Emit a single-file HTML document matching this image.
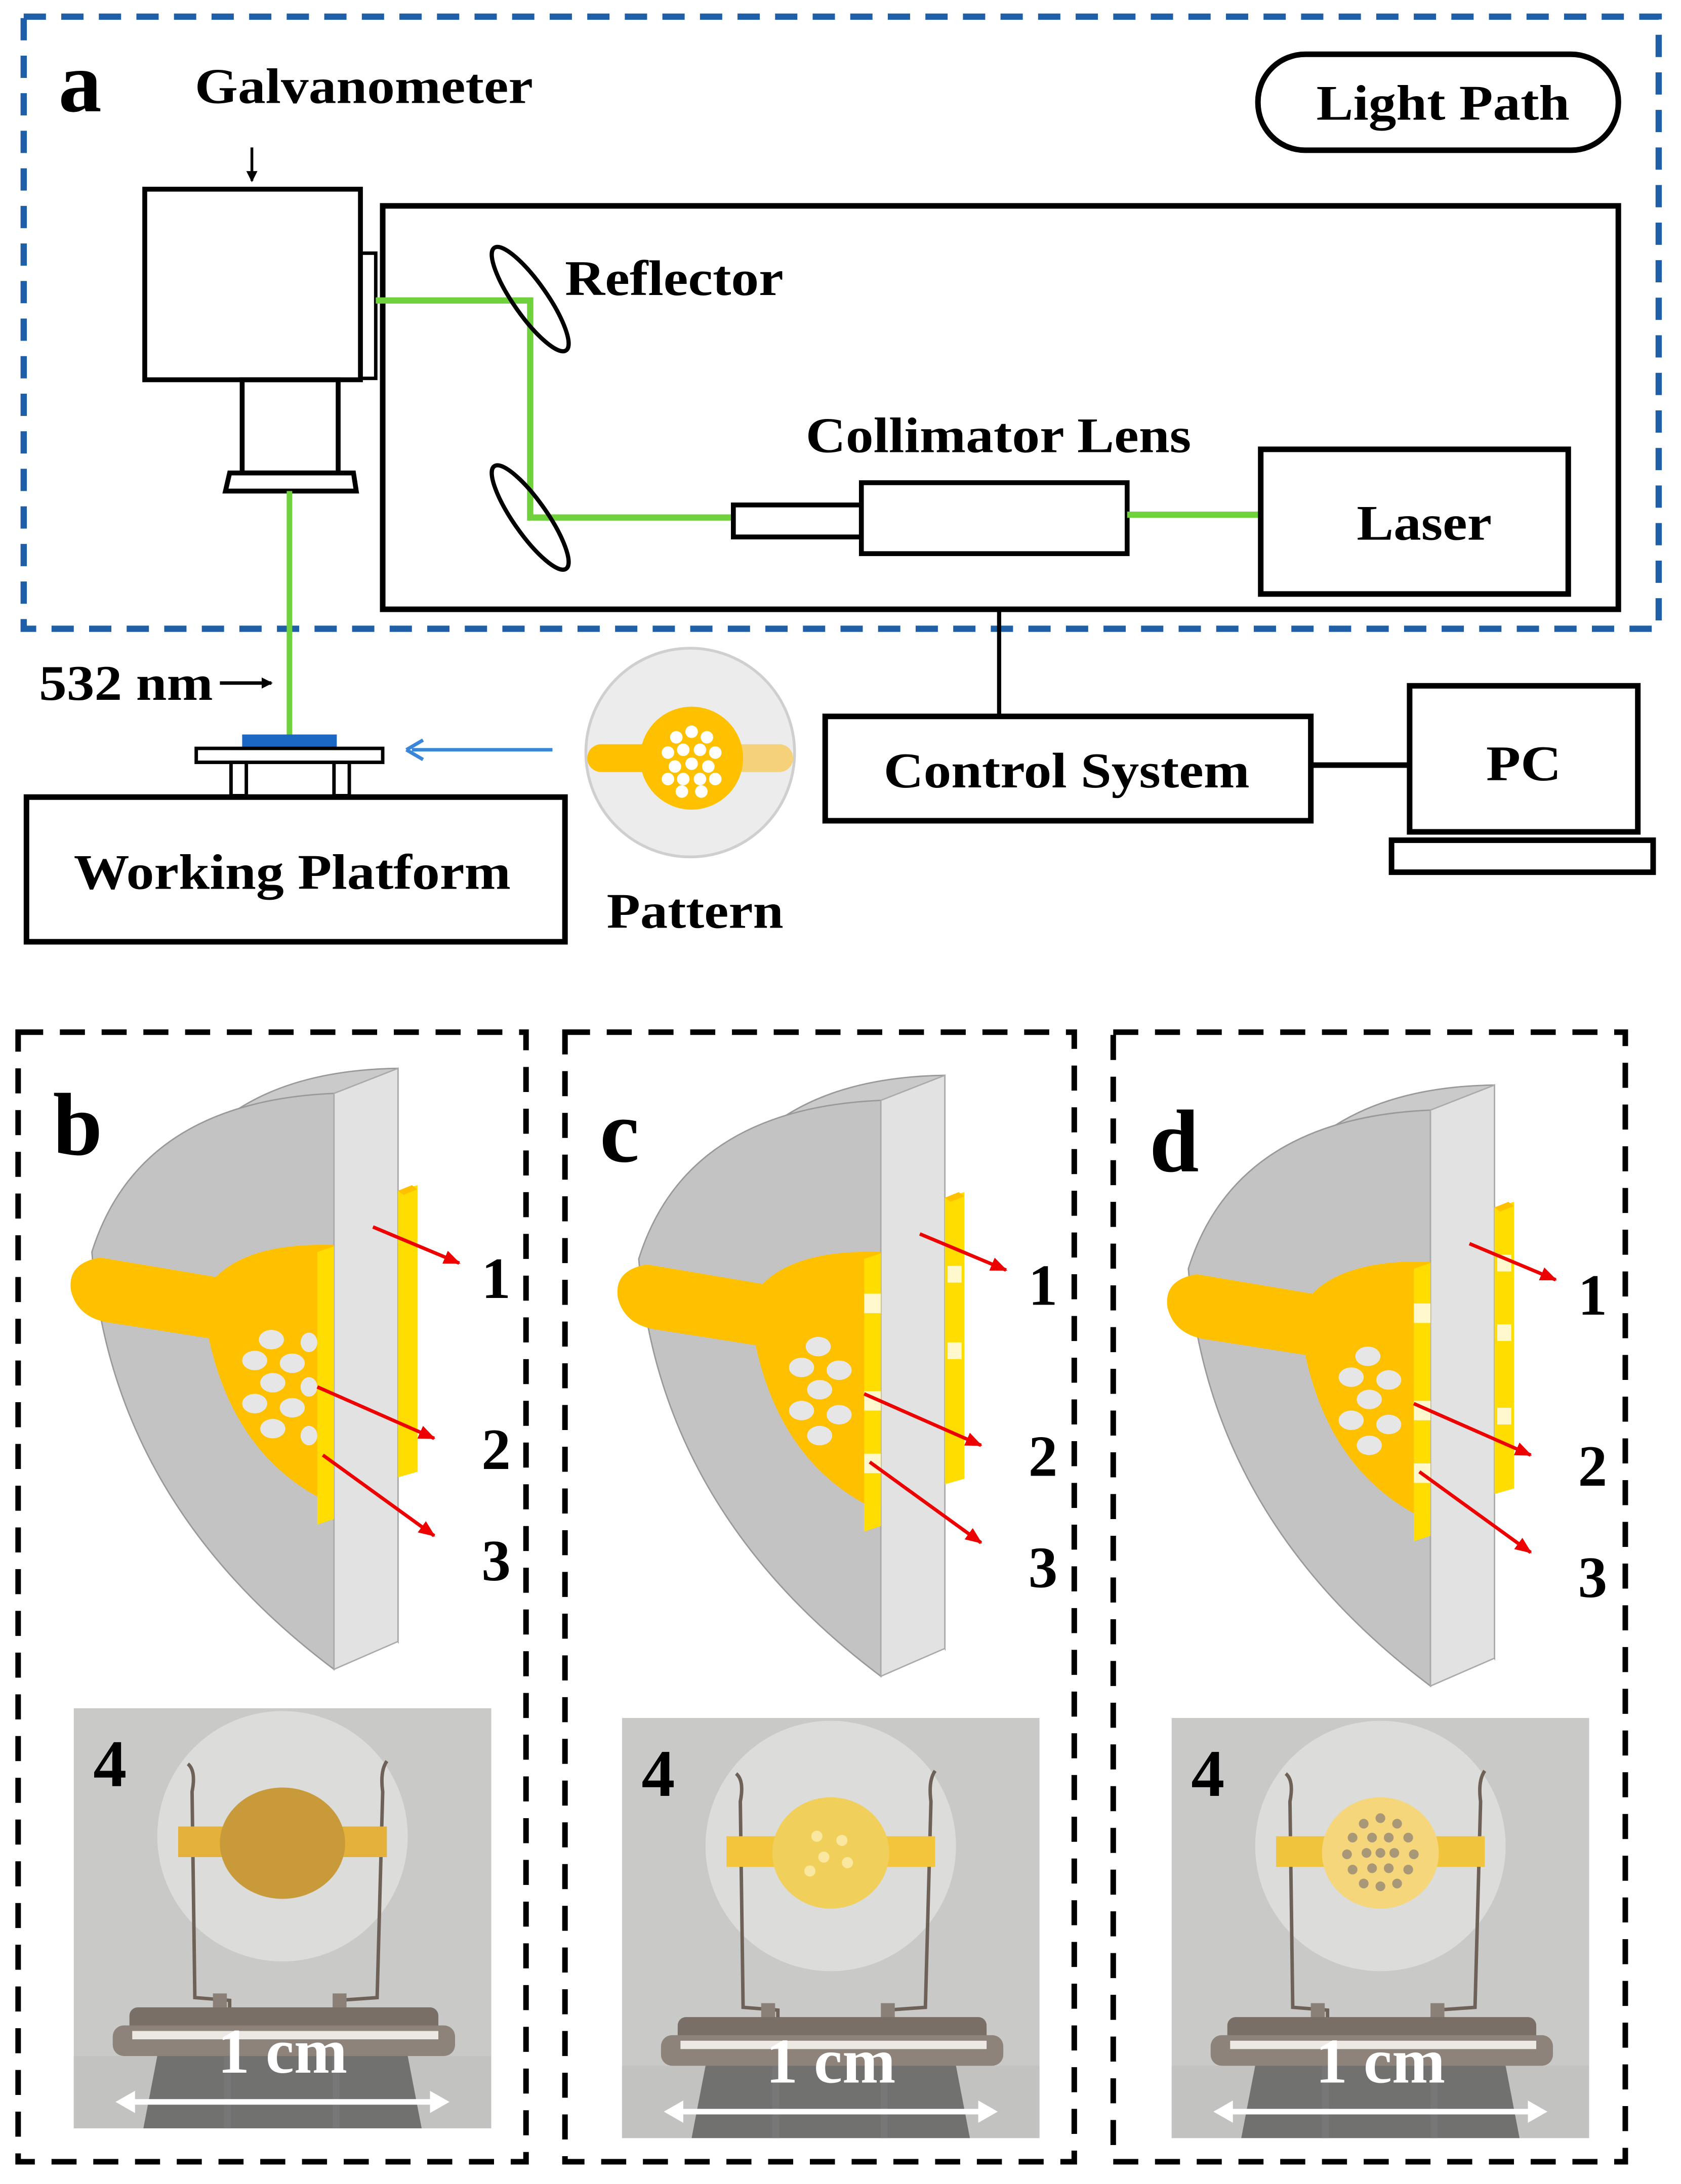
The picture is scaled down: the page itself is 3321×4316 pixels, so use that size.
<!DOCTYPE html>
<html><head><meta charset="utf-8"><style>html,body{margin:0;padding:0;background:#fff}svg{display:block}</style></head><body>
<svg width="3321" height="4316" viewBox="0 0 1208 1570" xmlns="http://www.w3.org/2000/svg" font-family="'Liberation Serif',serif" font-weight="bold">
<defs>
<marker id="ak" markerWidth="8" markerHeight="8" refX="7" refY="4" orient="auto" markerUnits="userSpaceOnUse"><path d="M0,0 L8,4 L0,8 Z" fill="#000"/></marker>
<marker id="ar" markerWidth="12" markerHeight="10" refX="11" refY="5" orient="auto" markerUnits="userSpaceOnUse"><path d="M0,0 L12,5 L0,10 Z" fill="#e00"/></marker>
<g id="shape">
<path d="M286,768 Q145,770 110,880 L286,1180 Z" fill="#cacaca" stroke="#999" stroke-width="1"/>
<path d="M240,786 Q100,792 66,900 Q80,1080 240,1200 Z" fill="#c3c3c3" stroke="#999" stroke-width="1"/>
<path d="M240,786 L286,768 L286,1180 L240,1200 Z" fill="#e2e2e2" stroke="#aaa" stroke-width="1"/>
<path d="M286,856 L300,852 L300,1058 L286,1062 Z" fill="#ffdd00"/>
<path d="M286,856 L296,852 L300,855 L290,859 Z" fill="#ffc000"/>
<path d="M240,895 Q180,893 155,918 L72,904 Q48,908 51,928 Q56,948 80,951 L150,962 Q168,1045 232,1078 L240,1078 Z" fill="#ffc000"/>
<path d="M228,900 L240,896 L240,1092 L228,1096 Z" fill="#ffdd00"/>
</g>
<g id="photo">
<rect x="0" y="0" width="300" height="302" fill="#c9c9c7"/>
<circle cx="150" cy="92" r="90" fill="#dcdcda"/>
<path d="M82,40 Q88,45 85,60 L87,208 L112,210 L112,240 M225,38 Q220,45 222,60 L218,208 L190,210 L190,240" fill="none" stroke="#6e6258" stroke-width="2.5"/>
<rect x="100" y="205" width="10" height="35" fill="#8a8078"/><rect x="186" y="205" width="10" height="35" fill="#8a8078"/>
<path d="M0,250 L300,250 L300,302 L0,302 Z" fill="#c2c2c0"/>
<path d="M60,250 Q150,240 240,250 L250,302 L50,302 Z" fill="#555" opacity="0.75"/>
<rect x="40" y="215" width="222" height="20" rx="6" fill="#7a6f66"/>
<rect x="28" y="228" width="246" height="22" rx="8" fill="#8d837a"/>
<rect x="42" y="232" width="220" height="6" fill="#ece8e4"/>
<rect x="108" y="250" width="5" height="52" fill="#777"/><rect x="186" y="250" width="5" height="52" fill="#777"/>
<text x="14" y="56" font-size="48" fill="#000">4</text>
<text x="150" y="262" font-size="46" fill="#fff" text-anchor="middle">1 cm</text>
<path d="M40,283 L260,283" stroke="#fff" stroke-width="4"/>
<path d="M30,283 L44,275 L44,291 Z M270,283 L256,275 L256,291 Z" fill="#fff"/>
</g>
</defs>

<rect x="17" y="12" width="1175" height="440" fill="none" stroke="#1f5fa8" stroke-width="4.5" stroke-dasharray="16,11"/>
<text x="42" y="80" font-size="62">a</text>
<text x="140" y="74" font-size="36" textLength="243" lengthAdjust="spacingAndGlyphs">Galvanometer</text>
<line x1="181" y1="106" x2="181" y2="130" stroke="#000" stroke-width="2" marker-end="url(#ak)"/>
<rect x="904" y="39" width="259" height="69" rx="34" fill="none" stroke="#000" stroke-width="4"/>
<text x="946" y="86" font-size="36" textLength="182" lengthAdjust="spacingAndGlyphs">Light Path</text>

<rect x="104" y="136" width="155" height="137" fill="none" stroke="#000" stroke-width="3.5"/>
<rect x="259" y="182" width="11" height="90" fill="none" stroke="#000" stroke-width="2.5"/>
<rect x="174" y="273" width="69" height="67" fill="none" stroke="#000" stroke-width="3.5"/>
<path d="M165,340 L254,340 L256,353 L162,353 Z" fill="none" stroke="#000" stroke-width="3.5"/>
<line x1="208" y1="353" x2="208" y2="528" stroke="#6fd13c" stroke-width="4"/>

<rect x="275" y="148" width="888" height="290" fill="none" stroke="#000" stroke-width="4"/>
<path d="M270,216 L381,216 L381,372 L527,372" fill="none" stroke="#6fd13c" stroke-width="4.5"/>
<ellipse cx="381" cy="215" rx="45" ry="12" transform="rotate(55 381 215)" fill="none" stroke="#000" stroke-width="3"/>
<ellipse cx="381" cy="372" rx="45" ry="12" transform="rotate(55 381 372)" fill="none" stroke="#000" stroke-width="3"/>
<text x="406" y="212" font-size="36" textLength="157" lengthAdjust="spacingAndGlyphs">Reflector</text>
<text x="579" y="325" font-size="36" textLength="277" lengthAdjust="spacingAndGlyphs">Collimator Lens</text>
<rect x="527" y="363" width="92" height="23" fill="#fff" stroke="#000" stroke-width="3.5"/>
<rect x="619" y="347" width="191" height="51" fill="#fff" stroke="#000" stroke-width="3.5"/>
<line x1="810" y1="370" x2="905" y2="370" stroke="#6fd13c" stroke-width="4.5"/>
<rect x="906" y="323" width="221" height="104" fill="none" stroke="#000" stroke-width="4"/>
<text x="975" y="388" font-size="36" textLength="97" lengthAdjust="spacingAndGlyphs">Laser</text>

<line x1="718" y1="438" x2="718" y2="515" stroke="#000" stroke-width="3"/>
<rect x="593" y="515" width="349" height="75" fill="none" stroke="#000" stroke-width="4"/>
<text x="635" y="566" font-size="36" textLength="263" lengthAdjust="spacingAndGlyphs">Control System</text>
<line x1="942" y1="550" x2="1012" y2="550" stroke="#000" stroke-width="4"/>
<rect x="1013" y="493" width="164" height="105" fill="none" stroke="#000" stroke-width="4"/>
<rect x="1000" y="604" width="188" height="23" fill="none" stroke="#000" stroke-width="4"/>
<text x="1068" y="561" font-size="36" textLength="54" lengthAdjust="spacingAndGlyphs">PC</text>

<text x="28" y="503" font-size="36" textLength="125" lengthAdjust="spacingAndGlyphs">532 nm</text>
<line x1="158" y1="491" x2="195" y2="491" stroke="#000" stroke-width="2.5" marker-end="url(#ak)"/>
<rect x="174" y="528" width="68" height="10" fill="#1a67c4"/>
<rect x="141" y="538" width="134" height="10" fill="none" stroke="#000" stroke-width="2.5"/>
<rect x="166" y="548" width="11" height="24" fill="none" stroke="#000" stroke-width="2.5"/>
<rect x="240" y="548" width="11" height="24" fill="none" stroke="#000" stroke-width="2.5"/>
<rect x="19" y="573" width="387" height="104" fill="none" stroke="#000" stroke-width="4"/>
<text x="53" y="639" font-size="36" textLength="314" lengthAdjust="spacingAndGlyphs">Working Platform</text>
<line x1="397" y1="539" x2="296" y2="539" stroke="#3a86d8" stroke-width="2.5"/>
<path d="M292,539 L304,532 M292,539 L304,546" stroke="#3a86d8" stroke-width="2.5" fill="none"/>
<circle cx="496" cy="541" r="75" fill="#ececec" stroke="#cfcfcf" stroke-width="2"/>
<rect x="422" y="535" width="75" height="20" rx="10" fill="#ffc000"/>
<rect x="497" y="535" width="73" height="20" rx="10" fill="#f5d27a"/>
<circle cx="497" cy="545" r="37" fill="#ffc000"/>
<g fill="#fff">
<circle cx="497" cy="526" r="4.5"/><circle cx="486" cy="530" r="4.5"/><circle cx="508" cy="530" r="4.5"/>
<circle cx="480" cy="541" r="4.5"/><circle cx="491" cy="539" r="4.5"/><circle cx="503" cy="539" r="4.5"/><circle cx="514" cy="541" r="4.5"/>
<circle cx="485" cy="551" r="4.5"/><circle cx="497" cy="549" r="4.5"/><circle cx="509" cy="551" r="4.5"/>
<circle cx="480" cy="560" r="4.5"/><circle cx="491" cy="560" r="4.5"/><circle cx="503" cy="560" r="4.5"/><circle cx="514" cy="560" r="4.5"/>
<circle cx="490" cy="569" r="4.5"/><circle cx="504" cy="569" r="4.5"/>
</g>
<text x="436" y="667" font-size="36" textLength="127" lengthAdjust="spacingAndGlyphs">Pattern</text>

<g fill="none" stroke="#000" stroke-width="4" stroke-dasharray="18,12">
<rect x="13" y="742" width="365" height="812"/>
<rect x="406" y="742" width="366" height="812"/>
<rect x="800" y="742" width="368" height="812"/>
</g>

<use href="#shape"/>
<g fill="#e6e6e6"><ellipse cx="195" cy="963" rx="9" ry="7"/><ellipse cx="183" cy="978" rx="9" ry="7"/><ellipse cx="210" cy="980" rx="9" ry="7"/><ellipse cx="196" cy="994" rx="9" ry="7"/><ellipse cx="183" cy="1009" rx="9" ry="7"/><ellipse cx="210" cy="1012" rx="9" ry="7"/><ellipse cx="196" cy="1027" rx="9" ry="7"/><ellipse cx="222" cy="965" rx="6" ry="7"/><ellipse cx="222" cy="997" rx="6" ry="7"/><ellipse cx="222" cy="1032" rx="6" ry="7"/></g>
<g stroke="#e00" stroke-width="2.5" marker-end="url(#ar)"><line x1="268" y1="882" x2="330" y2="908"/><line x1="228" y1="997" x2="312" y2="1034"/><line x1="232" y1="1046" x2="312" y2="1104"/></g>
<g font-size="42"><text x="346" y="933">1</text><text x="346" y="1056">2</text><text x="346" y="1136">3</text></g>
<text x="38" y="830" font-size="64">b</text>
<g transform="translate(53,1228)"><use href="#photo"/>
<rect x="75" y="85" width="150" height="22" fill="#e4b23a"/><ellipse cx="150" cy="97" rx="45" ry="40" fill="#c99a3a"/></g>

<g transform="translate(393,5)"><use href="#shape"/>
<g fill="#fff8cc"><rect x="228" y="925" width="12" height="14"/><rect x="228" y="995" width="12" height="14"/><rect x="228" y="1040" width="12" height="14"/><rect x="288" y="905" width="10" height="12"/><rect x="288" y="960" width="10" height="12"/></g>
<g fill="#e6e6e6"><ellipse cx="195" cy="963" rx="9" ry="7"/><ellipse cx="183" cy="978" rx="9" ry="7"/><ellipse cx="210" cy="980" rx="9" ry="7"/><ellipse cx="196" cy="994" rx="9" ry="7"/><ellipse cx="183" cy="1009" rx="9" ry="7"/><ellipse cx="210" cy="1012" rx="9" ry="7"/><ellipse cx="196" cy="1027" rx="9" ry="7"/></g>
<g stroke="#e00" stroke-width="2.5" marker-end="url(#ar)"><line x1="268" y1="882" x2="330" y2="908"/><line x1="228" y1="997" x2="312" y2="1034"/><line x1="232" y1="1046" x2="312" y2="1104"/></g>
<g font-size="42"><text x="346" y="933">1</text><text x="346" y="1056">2</text><text x="346" y="1136">3</text></g>
<text x="38" y="830" font-size="64">c</text></g>
<g transform="translate(447,1235)"><use href="#photo"/>
<rect x="75" y="85" width="150" height="22" fill="#f2c53a"/><ellipse cx="150" cy="97" rx="42" ry="40" fill="#f0cf5a"/>
<g fill="#fbe8a0"><circle cx="140" cy="85" r="4"/><circle cx="158" cy="88" r="4"/><circle cx="145" cy="100" r="4"/><circle cx="162" cy="104" r="4"/><circle cx="135" cy="110" r="4"/></g></g>

<g transform="translate(788,12)"><use href="#shape"/>
<g fill="#fff8cc"><rect x="228" y="925" width="12" height="14"/><rect x="228" y="995" width="12" height="14"/><rect x="228" y="1040" width="12" height="14"/><rect x="288" y="890" width="10" height="12"/><rect x="288" y="940" width="10" height="12"/><rect x="288" y="1000" width="10" height="12"/></g>
<g fill="#e6e6e6"><ellipse cx="195" cy="963" rx="9" ry="7"/><ellipse cx="183" cy="978" rx="9" ry="7"/><ellipse cx="210" cy="980" rx="9" ry="7"/><ellipse cx="196" cy="994" rx="9" ry="7"/><ellipse cx="183" cy="1009" rx="9" ry="7"/><ellipse cx="210" cy="1012" rx="9" ry="7"/><ellipse cx="196" cy="1027" rx="9" ry="7"/></g>
<g stroke="#e00" stroke-width="2.5" marker-end="url(#ar)"><line x1="268" y1="882" x2="330" y2="908"/><line x1="228" y1="997" x2="312" y2="1034"/><line x1="232" y1="1046" x2="312" y2="1104"/></g>
<g font-size="42"><text x="346" y="933">1</text><text x="346" y="1056">2</text><text x="346" y="1136">3</text></g>
<text x="38" y="830" font-size="64">d</text></g>
<g transform="translate(842,1235)"><use href="#photo"/>
<rect x="75" y="85" width="150" height="22" fill="#f0c43c"/><ellipse cx="150" cy="97" rx="42" ry="40" fill="#f5d67a"/>
<g fill="#a89878"><circle cx="150" cy="72" r="3.5"/><circle cx="138" cy="76" r="3.5"/><circle cx="162" cy="76" r="3.5"/><circle cx="130" cy="86" r="3.5"/><circle cx="144" cy="86" r="3.5"/><circle cx="156" cy="86" r="3.5"/><circle cx="170" cy="86" r="3.5"/><circle cx="126" cy="98" r="3.5"/><circle cx="140" cy="97" r="3.5"/><circle cx="150" cy="97" r="3.5"/><circle cx="160" cy="97" r="3.5"/><circle cx="174" cy="98" r="3.5"/><circle cx="130" cy="109" r="3.5"/><circle cx="144" cy="108" r="3.5"/><circle cx="156" cy="108" r="3.5"/><circle cx="170" cy="109" r="3.5"/><circle cx="138" cy="119" r="3.5"/><circle cx="150" cy="121" r="3.5"/><circle cx="162" cy="119" r="3.5"/></g></g>
</svg>
</body></html>
